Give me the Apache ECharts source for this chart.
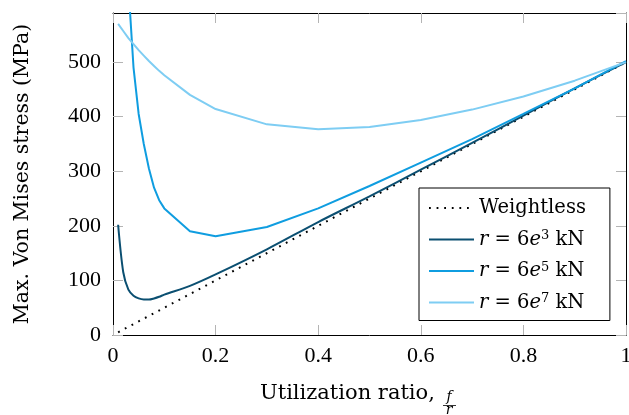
<!DOCTYPE html>
<html>
<head>
<meta charset="utf-8">
<script src="https://cdn.jsdelivr.net/npm/echarts@6/dist/echarts.min.js"></script>
<style>html,body{margin:0;padding:0;background:#fff;}#c{width:629px;height:415px;}</style>
</head>
<body>
<div id="c"></div>
<script>
// ---- data ----
const xWeightless = [0.01, 0.1, 0.2, 0.3, 0.4, 0.5, 0.6, 0.7, 0.8, 0.9, 1.0];
const yWeightless = [5, 50, 100, 150, 200, 250, 300, 350, 400, 450, 500];

const xLow = [0.01, 0.02, 0.03, 0.04, 0.05, 0.06, 0.07, 0.08, 0.09, 0.1, 0.15, 0.2, 0.3, 0.4, 0.5, 0.6, 0.7, 0.8, 0.9, 1.0];
const yR3  = [202, 115, 83, 72, 67, 65, 65, 67, 70, 74, 90, 111, 157, 207, 254, 303, 352, 402, 452, 500];
const yR7  = [570, 557, 544, 533, 522, 512, 502, 493, 484, 476, 440, 414, 386, 377, 381, 394, 413, 437, 466, 500];

const xR5 = [0.03, 0.04, 0.05, 0.06, 0.07, 0.08, 0.09, 0.1, 0.15, 0.2, 0.3, 0.4, 0.5, 0.6, 0.7, 0.8, 0.9, 1.0];
const yR5 = [640, 490, 405, 350, 305, 270, 247, 232, 190, 181, 198, 232, 273, 316, 359, 405, 452, 502];

const xTicks = [0, 0.2, 0.4, 0.6, 0.8, 1];
const yTicks = [0, 100, 200, 300, 400, 500];

const names = ['Weightless', 'r3', 'r5', 'r7'];
const legendText = {
  'Weightless': 'Weightless',
  'r3': '{i|r} = 6{i|e}{sup|3} kN',
  'r5': '{i|r} = 6{i|e}{sup|5} kN',
  'r7': '{i|r} = 6{i|e}{sup|7} kN'
};

function pairs(xs, ys) { return xs.map((x, i) => [x, ys[i]]); }

const NUMFONT = '"Liberation Serif", serif';
const TXTFONT = '"DejaVu Serif", serif';
const tickColor = '#b4b4b4';

const chart = echarts.init(document.getElementById('c'), null, {renderer: 'canvas'});

const axisCommonX = {
  type: 'value', min: 0, max: 1, interval: 0.2,
  axisLine: {show: true, onZero: false, lineStyle: {color: '#000', width: 1}},
  axisTick: {show: true, inside: true, length: 10, lineStyle: {color: tickColor, width: 1}},
  splitLine: {show: false}
};
const axisCommonY = {
  type: 'value', min: 0, max: 590, interval: 100,
  axisLine: {show: true, onZero: false, lineStyle: {color: '#000', width: 1}},
  axisTick: {show: true, inside: true, length: 10, lineStyle: {color: tickColor, width: 1}},
  splitLine: {show: false}
};

chart.setOption({
  animation: false,
  backgroundColor: '#fff',
  grid: {left: 113, right: 3, top: 13, bottom: 80, containLabel: false, outerBoundsMode: 'none'},
  xAxis: [
    Object.assign({}, axisCommonX, {
      position: 'bottom',
      axisLabel: {show: true, margin: 10, color: '#000', fontFamily: NUMFONT, fontSize: 22,
        formatter: v => xTicks.some(t => Math.abs(t - v) < 1e-9) ? String(+v.toFixed(1)) : ''}
    }),
    Object.assign({}, axisCommonX, {position: 'top', axisLabel: {show: false}})
  ],
  yAxis: [
    Object.assign({}, axisCommonY, {
      position: 'left',
      name: 'Max. Von Mises stress (MPa)',
      nameLocation: 'middle', nameGap: 80, nameRotate: 90,
      nameTextStyle: {color: '#000', fontFamily: TXTFONT, fontSize: 20.5},
      axisLabel: {show: true, margin: 12, color: '#000', fontFamily: NUMFONT, fontSize: 22, showMaxLabel: false,
        formatter: v => yTicks.indexOf(v) >= 0 ? String(v) : ''}
    }),
    Object.assign({}, axisCommonY, {position: 'right', axisLabel: {show: false}})
  ],
  legend: {
    orient: 'vertical', left: 419, top: 188,
    data: names,
    backgroundColor: '#fff', borderColor: '#000', borderWidth: 1,
    padding: [10, 24, 8, 9],
    itemWidth: 45, itemHeight: 20, itemGap: 11.5,
    itemStyle: {opacity: 0},
    formatter: n => legendText[n],
    textStyle: {color: '#000', fontFamily: TXTFONT, fontSize: 19.5, lineHeight: 20,
      rich: {
        i: {fontFamily: TXTFONT, fontSize: 19.5, fontStyle: 'italic', color: '#000'},
        sup: {fontFamily: TXTFONT, fontSize: 13, color: '#000', verticalAlign: 'top', lineHeight: 9}
      }
    }
  },
  graphic: [
    {type: 'text', left: 260, top: 383, style: {text: 'Utilization ratio,', font: '21px ' + TXTFONT, fill: '#000'}},
    {type: 'text', x: 449, y: 397, style: {text: 'f', font: 'italic 14px ' + TXTFONT, fill: '#000', align: 'center', verticalAlign: 'middle'}},
    {type: 'line', shape: {x1: 443, y1: 405.5, x2: 456, y2: 405.5}, style: {stroke: '#000', lineWidth: 0.8}},
    {type: 'text', x: 449, y: 410, style: {text: 'r', font: 'italic 14px ' + TXTFONT, fill: '#000', align: 'center', verticalAlign: 'middle'}}
  ],
  series: [
    {name: 'Weightless', type: 'line', symbol: 'none', data: pairs(xWeightless, yWeightless),
      lineStyle: {color: '#000', width: 2, type: [1.8, 5.8], cap: 'butt'}, itemStyle: {color: '#000'}, clip: true},
    {name: 'r3', type: 'line', symbol: 'none', smooth: 0.3, data: pairs(xLow, yR3),
      lineStyle: {color: '#0b4f71', width: 2}, itemStyle: {color: '#0b4f71'}, clip: true},
    {name: 'r5', type: 'line', symbol: 'none', data: pairs(xR5, yR5),
      lineStyle: {color: '#0f9de0', width: 2}, itemStyle: {color: '#0f9de0'}, clip: true},
    {name: 'r7', type: 'line', symbol: 'none', data: pairs(xLow, yR7),
      lineStyle: {color: '#7ecdf3', width: 2}, itemStyle: {color: '#7ecdf3'}, clip: true},
    {name: 'frame', type: 'line', xAxisIndex: 1, yAxisIndex: 1, data: [], symbol: 'none', silent: true}
  ]
});
</script>
</body>
</html>
